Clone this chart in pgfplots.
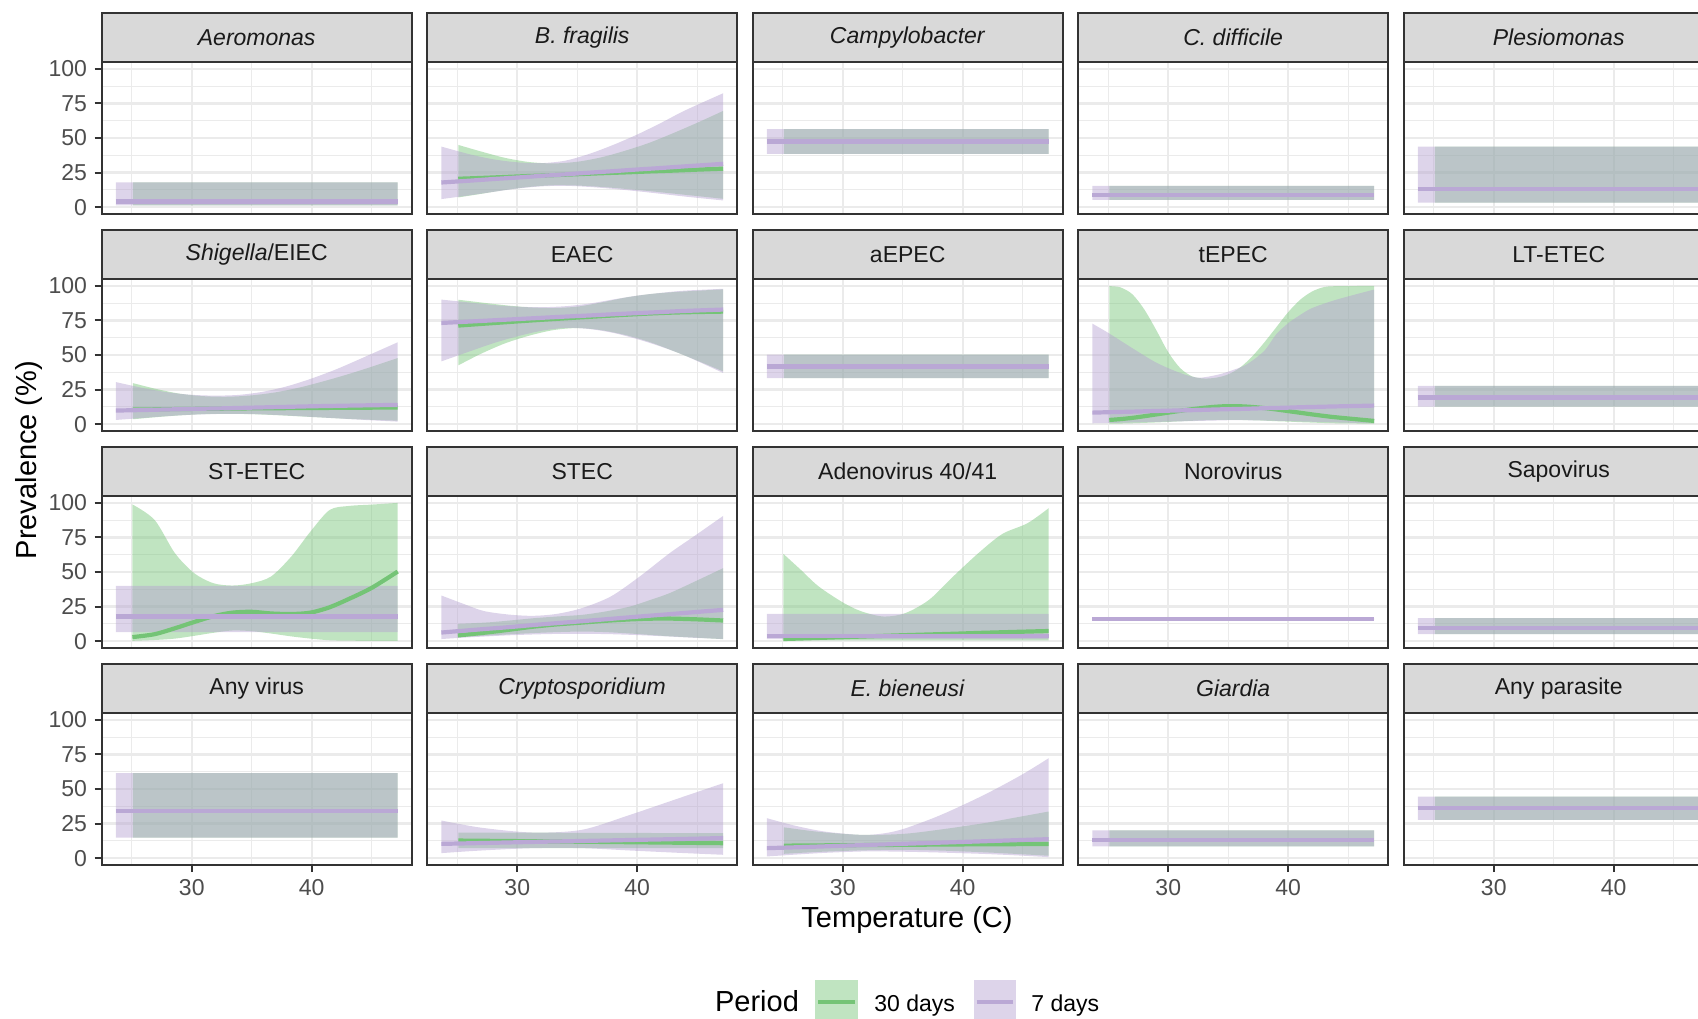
\documentclass[border=0pt]{standalone}
\usepackage{pgfplots}
\pgfplotsset{compat=1.18}
\usepackage{pgfplotstable}
\usepgfplotslibrary{fillbetween}
\usepackage{fontspec}
\setmainfont{Liberation Sans}

\definecolor{gthirty}{RGB}{116,196,118}
\definecolor{pseven}{RGB}{186,168,213}
\definecolor{pfill}{RGB}{180,160,208}
\definecolor{gridc}{RGB}{235,235,235}
\definecolor{gtwenty}{RGB}{51,51,51}
\definecolor{ticktext}{RGB}{77,77,77}
\definecolor{stripc}{RGB}{217,217,217}
\definecolor{striptextc}{RGB}{26,26,26}

% ---------------- data: x, lower, upper, mean ----------------
% Row 1
\pgfplotstableread{
x lo hi m
23.67 1.2 17.8 4.0
47.17 1.2 17.8 4.0
}\aeroP
\pgfplotstableread{
x lo hi m
25.08 1.2 17.8 4.0
47.17 1.2 17.8 4.0
}\aeroG
\pgfplotstableread{
x lo hi m
23.67 5.8 43.8 17.8
26 8.5 38.3 19.1
28 11 34.6 20.3
30 13.4 32.4 21.4
32 15 31.8 22.6
34 15.4 33.6 23.7
36 14.6 38.5 24.9
38 13.2 45 26.0
40 11.5 52.5 27.2
42 9.6 61 28.3
44 7.6 70 29.5
47.17 4.8 82.4 31.3
}\bfragP
\pgfplotstableread{
x lo hi m
25.08 7 45 20.5
27 9.6 40.2 21.1
29 12.4 35.6 21.8
31 14.6 32.6 22.5
33 15.8 31.6 23.1
35 15.6 32.8 23.8
37 14.6 36 24.5
39 13.2 40.8 25.1
41 11.6 46.5 25.8
43 9.8 53.5 26.4
45 8 61 27.1
47.17 6 69.6 27.8
}\bfragG
\pgfplotstableread{
x lo hi m
23.67 38.5 56.4 47.4
47.17 38.5 56.4 47.4
}\campyP
\pgfplotstableread{
x lo hi m
25.08 38.5 56.4 47.4
47.17 38.5 56.4 47.4
}\campyG
\pgfplotstableread{
x lo hi m
23.67 5.3 15.4 8.9
47.17 5.3 15.4 8.9
}\cdiffP
\pgfplotstableread{
x lo hi m
25.08 5.3 15.4 8.9
47.17 5.3 15.4 8.9
}\cdiffG
\pgfplotstableread{
x lo hi m
23.67 3.3 43.8 13.0
47.17 3.3 43.8 13.0
}\plesP
\pgfplotstableread{
x lo hi m
25.08 3.3 43.8 13.0
47.17 3.3 43.8 13.0
}\plesG
% Row 2
\pgfplotstableread{
x lo hi m
23.67 3 30.4 9.8
26 4.5 26 10.2
28 5.8 23 10.6
30 6.8 21.2 11
32 7.3 20.6 11.3
34 7.4 21.2 11.7
36 7 23.5 12.1
38 6.2 27.5 12.5
40 5.2 33 12.9
42 4.2 39.5 13.2
44 3.2 47 13.5
47.17 1.8 59.2 13.9
}\shigP
\pgfplotstableread{
x lo hi m
25.08 3.5 29.7 10.5
27 5 25.5 10.7
29 6.3 22 10.9
31 7.2 20.2 11.1
33 7.4 19.8 11.2
35 7.2 20.8 11.4
37 6.5 23 11.5
39 5.6 26.5 11.6
41 4.7 31 11.7
43 3.8 36 11.8
45 3.1 41.5 11.9
47.17 2.5 47.8 12.0
}\shigG
\pgfplotstableread{
x lo hi m
23.67 45.4 90.1 73.2
26 52.5 88 74.2
28 58.5 86.2 75.1
30 63.5 85 76
32 67.5 84.6 76.9
34 69.6 85.3 77.8
36 68.8 87.2 78.6
38 66 90.2 79.5
40 61.5 93 80.3
42 56 95 81.1
44 49.5 96.6 81.9
47.17 37 97.9 82.9
}\eaecP
\pgfplotstableread{
x lo hi m
25.08 42.5 90 71.3
27 51 88 72.5
29 58.5 86 73.7
31 64 84.5 74.9
33 68 84 76
35 69.5 85 77.1
37 68 88 78.1
39 64.5 91.5 79.1
41 59.5 94 80
43 53 95.5 80.7
45 46 96.5 81.1
47.17 38.1 97.5 81.4
}\eaecG
\pgfplotstableread{
x lo hi m
23.67 33.3 50.2 41.7
47.17 33.3 50.2 41.7
}\aepecP
\pgfplotstableread{
x lo hi m
25.08 33.3 50.2 41.7
47.17 33.3 50.2 41.7
}\aepecG
\pgfplotstableread{
x lo hi m
23.67 0.6 72.7 8.3
25 0.8 66 8.6
27 1.2 55 9.0
29 1.6 44.5 9.5
31 2 37 9.9
32.5 2.3 33.6 10.2
34 2.6 35.5 10.6
35 2.8 38 10.8
36.5 2.8 43 11.1
38 2.6 53 11.5
39 2.4 65 11.7
40 2.2 73 11.9
41 1.9 79 12.2
42 1.7 84 12.4
44 1.2 90 12.8
47.17 0.6 97.4 13.4
}\tepecP
\pgfplotstableread{
x lo hi m
25.08 0.3 99.8 3
26 0.4 99 3.6
27 0.6 94 4.5
28 0.9 83 5.7
29 1.2 68 7
30 1.6 52 8.3
31 2 40.5 9.6
32 2.4 34.5 10.8
33 2.8 33 11.8
34 3 33.6 12.6
35 3.1 36 13
36 3 41 12.9
37 2.8 49 12.4
38 2.5 59 11.6
39 2.1 70 10.6
40 1.8 81 9.4
41 1.4 90 8.2
42 1.1 96 7
43 0.8 99.2 5.9
44 0.6 99.8 4.9
47.17 0.3 100 2.3
}\tepecG
\pgfplotstableread{
x lo hi m
23.67 12.7 27.7 19.2
47.17 12.7 27.7 19.2
}\ltP
\pgfplotstableread{
x lo hi m
25.08 12.7 27.7 19.2
47.17 12.7 27.7 19.2
}\ltG
% Row 3
\pgfplotstableread{
x lo hi m
23.67 6.5 40 17.8
47.17 6.5 40 17.8
}\stP
\pgfplotstableread{
x lo hi m
25.05 0.2 98.9 2.9
26.9 0.8 87.7 5
28.6 1.8 63.6 9.3
30.2 3.8 49.2 13.8
31.8 6 41.9 18
33.4 7.7 40.2 20.6
35 7.2 41.9 21.2
36.6 5.5 46.7 20
38.3 3.4 61.2 19.6
39.9 1.8 79.3 20.6
41.5 0.6 94.9 24.5
43.1 0.3 97.8 30.5
45 0.2 98.8 38.5
47.17 0.2 100 50.3
}\stG
\pgfplotstableread{
x lo hi m
23.67 1.5 33 6.2
25.5 2.5 27 7.5
27.2 3.3 21.8 8.7
29.3 4.2 19.2 10.1
31.3 4.8 18.3 11.6
33.3 5.2 19.7 13
35.4 5.3 23.9 14.4
37.8 5 32.3 16.1
40.2 4.3 46.7 17.8
42.7 3.3 63.6 19.5
44.7 2.4 75.6 20.9
47.17 1.5 90.6 22.6
}\stecP
\pgfplotstableread{
x lo hi m
25.05 2.9 12.5 4.1
27.5 4 13.5 6.3
29.5 5 15 8.4
31.3 5.8 16.5 10.4
33.3 6.5 17.8 12.1
35.4 6.9 19 13.4
37.4 6.5 21.5 14.7
39.4 5.5 25 15.7
41 4.5 29.5 16.2
42.7 3.5 34.7 16.3
45.1 2.4 44.3 15.7
47.17 1.4 52.8 14.9
}\stecG
\pgfplotstableread{
x lo hi m
23.67 1.4 19.7 3.8
47.17 1.4 19.7 3.8
}\adenoP
\pgfplotstableread{
x lo hi m
25.05 0.5 63.1 1.5
26.5 0.5 51.6 1.9
28 0.5 39.5 2.3
30.1 0.5 27.5 2.9
31.6 0.5 21.4 3.3
33.4 0.5 17.8 3.8
35.2 0.5 20.2 4.3
37.2 0.5 29.9 4.8
39.2 0.5 46.7 5.3
41.3 0.5 63.6 5.9
43.3 0.5 77.5 6.4
45.4 0.5 85.3 6.9
47.17 0.5 96.2 7.3
}\adenoG
\pgfplotstableread{
x lo hi m
23.67 15.2 16.6 15.9
47.17 15.2 16.6 15.9
}\noroP
\pgfplotstableread{
x lo hi m
23.67 5.1 16.6 9.4
47.17 5.1 16.6 9.4
}\sapoP
\pgfplotstableread{
x lo hi m
25.08 5.1 16.6 9.4
47.17 5.1 16.6 9.4
}\sapoG
% Row 4
\pgfplotstableread{
x lo hi m
23.67 14.9 61.5 34.2
47.17 14.9 61.5 34.2
}\virP
\pgfplotstableread{
x lo hi m
25.08 14.9 61.5 34.2
47.17 14.9 61.5 34.2
}\virG
\pgfplotstableread{
x lo hi m
23.67 3.6 27.2 10.3
27 5.5 22 10.9
31.3 7.2 18.5 11.7
35.4 7.2 20.5 12.4
39.4 5.5 31.3 13.1
43.5 3.8 43.4 13.8
47.17 2.4 54.2 14.5
}\cryptoP
\pgfplotstableread{
x lo hi m
25.08 7.2 18.5 12.7
36 7.3 18.3 11.8
47.17 7.2 18 10.8
}\cryptoG
\pgfplotstableread{
x lo hi m
23.67 1.2 28.9 7.2
26 2.5 23.5 7.8
28.5 3.8 19.2 8.5
31.6 4.8 16.8 9.4
33.5 4.8 18 9.9
35.2 4.6 21.5 10.4
38.2 4 31.3 11.2
41.8 3 45.8 12.2
44.9 1.8 60.2 13.1
47.17 0.7 72.3 13.7
}\ebieP
\pgfplotstableread{
x lo hi m
25.08 3.1 22.3 9.0
28 4.5 19 9.2
31.6 5.6 16.8 9.4
35 6 17.5 9.6
38 5.5 20.5 9.8
41.8 4.2 25.3 10.0
44.5 3 29.5 10.1
47.17 1.7 33.7 10.2
}\ebieG
\pgfplotstableread{
x lo hi m
23.67 8.4 20.0 13.2
47.17 8.4 20.0 13.2
}\giaP
\pgfplotstableread{
x lo hi m
25.08 8.4 20.0 13.2
47.17 8.4 20.0 13.2
}\giaG
\pgfplotstableread{
x lo hi m
23.67 27.7 44.5 36.2
47.17 27.7 44.5 36.2
}\parP
\pgfplotstableread{
x lo hi m
25.08 27.7 44.5 36.2
47.17 27.7 44.5 36.2
}\parG

% ---------------- styles ----------------
\pgfplotsset{
  facet/.style={
    width=155pt, height=76pt, scale only axis, anchor=north west,
    xmin=22.49, xmax=48.34, ymin=-5, ymax=105,
    xtick={30,40}, minor xtick={25,35,45},
    ytick={0,25,50,75,100}, minor ytick={12.5,37.5,62.5,87.5},
    grid=both,
    major grid style={line width=1.1pt, draw=gridc},
    minor grid style={line width=0.55pt, draw=gridc},
    axis line style={line width=1pt, draw=gtwenty},
    tick align=outside, major tick length=3.5pt, minor tick length=0pt,
    xtick style={draw=none}, ytick style={draw=none},
    xticklabels={,}, yticklabels={,,,,},
    /pgf/number format/assume math mode=true,
    tick label style={font=\fontsize{11.5pt}{13pt}\selectfont, text=ticktext, inner sep=0pt},
  },
  leftcol/.style={ytick pos=left, ytick style={draw=gtwenty, line width=1pt},
    yticklabels={0,25,50,75,100}, yticklabel style={xshift=-3.7pt}},
  bottomrow/.style={xtick pos=bottom, xtick style={draw=gtwenty, line width=1pt},
    xticklabels={30,40}, xticklabel style={yshift=-3.5pt}},
}

\newcommand{\band}[3]{%
  \addplot[draw=none, name path=hi#3, smooth] table[x=x,y=hi]{#1};
  \addplot[draw=none, name path=lo#3, smooth] table[x=x,y=lo]{#1};
  \addplot[fill=#2, fill opacity=0.45, draw=none] fill between[of=hi#3 and lo#3];
}
\newcommand{\mline}[2]{\addplot[draw=#2, line width=2.1pt, smooth] table[x=x,y=m]{#1};}
\newcommand{\both}[2]{\band{#1}{gthirty}{g}\band{#2}{pfill}{p}\mline{#1}{gthirty}\mline{#2}{pseven}}

\newcommand{\facet}[5]{%
  \begin{axis}[facet, name=#1, at={#2}, #3]
  #5
  \end{axis}
  \draw[fill=stripc, draw=gtwenty, line width=1pt] (#1.north west) rectangle ([yshift=24.5pt]#1.north east);
  \node[font=\fontsize{11.5pt}{13pt}\selectfont, text=striptextc] at ([yshift=12.25pt]#1.north) {#4};
}

\begin{document}
\begin{tikzpicture}
% Row 1
\facet{a11}{(50.85pt,-31pt)}{leftcol}{\textit{Aeromonas}}{\both{\aeroG}{\aeroP}}
\facet{a12}{(213.6pt,-31pt)}{}{\textit{B. fragilis}}{\both{\bfragG}{\bfragP}}
\facet{a13}{(376.35pt,-31pt)}{}{\textit{Campylobacter}}{\both{\campyG}{\campyP}}
\facet{a14}{(539.1pt,-31pt)}{}{\textit{C. difficile}}{\both{\cdiffG}{\cdiffP}}
\facet{a15}{(701.85pt,-31pt)}{}{\textit{Plesiomonas}}{\both{\plesG}{\plesP}}
% Row 2
\facet{a21}{(50.85pt,-139.5pt)}{leftcol}{\textit{Shigella}/EIEC}{\both{\shigG}{\shigP}}
\facet{a22}{(213.6pt,-139.5pt)}{}{EAEC}{\both{\eaecG}{\eaecP}}
\facet{a23}{(376.35pt,-139.5pt)}{}{aEPEC}{\both{\aepecG}{\aepecP}}
\facet{a24}{(539.1pt,-139.5pt)}{}{tEPEC}{\both{\tepecG}{\tepecP}}
\facet{a25}{(701.85pt,-139.5pt)}{}{LT-ETEC}{\both{\ltG}{\ltP}}
% Row 3
\facet{a31}{(50.85pt,-248pt)}{leftcol}{ST-ETEC}{\both{\stG}{\stP}}
\facet{a32}{(213.6pt,-248pt)}{}{STEC}{\both{\stecG}{\stecP}}
\facet{a33}{(376.35pt,-248pt)}{}{Adenovirus 40/41}{\both{\adenoG}{\adenoP}}
\facet{a34}{(539.1pt,-248pt)}{}{Norovirus}{\band{\noroP}{pfill}{p}\mline{\noroP}{pseven}}
\facet{a35}{(701.85pt,-248pt)}{}{Sapovirus}{\both{\sapoG}{\sapoP}}
% Row 4
\facet{a41}{(50.85pt,-356.5pt)}{leftcol,bottomrow}{Any virus}{\both{\virG}{\virP}}
\facet{a42}{(213.6pt,-356.5pt)}{bottomrow}{\textit{Cryptosporidium}}{\both{\cryptoG}{\cryptoP}}
\facet{a43}{(376.35pt,-356.5pt)}{bottomrow}{\textit{E. bieneusi}}{\both{\ebieG}{\ebieP}}
\facet{a44}{(539.1pt,-356.5pt)}{bottomrow}{\textit{Giardia}}{\both{\giaG}{\giaP}}
\facet{a45}{(701.85pt,-356.5pt)}{bottomrow}{Any parasite}{\both{\parG}{\parP}}

% axis titles
\node[font=\fontsize{14.5pt}{16pt}\selectfont] at (453.5pt,-460pt) {Temperature (C)};
\node[font=\fontsize{14.5pt}{16pt}\selectfont, rotate=90] at (14.5pt,-230pt) {Prevalence (\%)};

% legend
\node[anchor=base west, inner sep=0pt, font=\fontsize{14.5pt}{16pt}\selectfont] at (357.35pt,-505.5pt) {Period};
\fill[gthirty, fill opacity=0.45] (407.7pt,-490pt) rectangle (428.85pt,-512pt);
\draw[gthirty, line width=2.1pt] (409pt,-500.85pt) -- (427.5pt,-500.85pt);
\node[anchor=base west, inner sep=0pt, font=\fontsize{11.5pt}{13pt}\selectfont] at (437pt,-505.5pt) {30 days};
\fill[pfill, fill opacity=0.45] (486.75pt,-490pt) rectangle (507.9pt,-512pt);
\draw[pseven, line width=2.1pt] (488.3pt,-500.85pt) -- (506.4pt,-500.85pt);
\node[anchor=base west, inner sep=0pt, font=\fontsize{11.5pt}{13pt}\selectfont] at (515.5pt,-505.5pt) {7 days};

\pgfresetboundingbox
\path[use as bounding box] (0pt,0pt) rectangle (849pt,-509pt);
\end{tikzpicture}
\end{document}
